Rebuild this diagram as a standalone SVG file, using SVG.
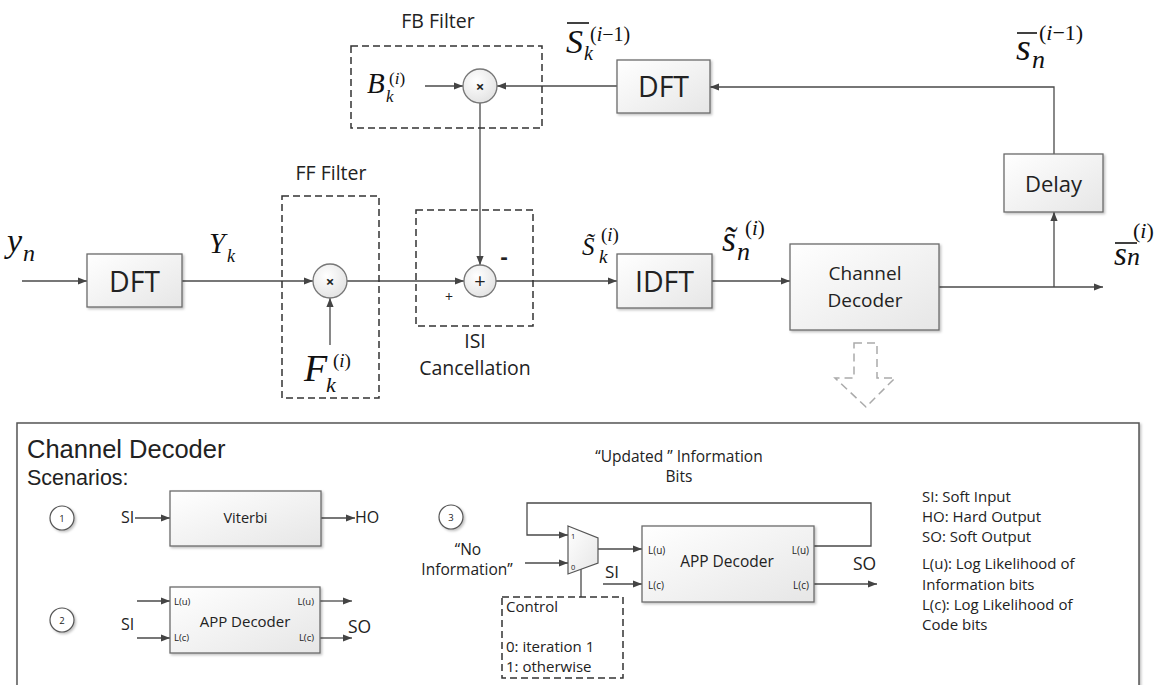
<svg xmlns="http://www.w3.org/2000/svg" width="1165" height="685" viewBox="0 0 1165 685">
<defs>
<linearGradient id="g" x1="0" y1="0" x2="1" y2="1">
<stop offset="0" stop-color="#ffffff"/>
<stop offset="1" stop-color="#e6e6e6"/>
</linearGradient>
<radialGradient id="rg" cx="0.4" cy="0.35" r="0.7">
<stop offset="0" stop-color="#ffffff"/>
<stop offset="1" stop-color="#e2e2e2"/>
</radialGradient>
<filter id="sh" x="-10%" y="-10%" width="130%" height="130%">
<feDropShadow dx="1.5" dy="1.5" stdDeviation="1" flood-color="#000" flood-opacity="0.25"/>
</filter>
<marker id="ah" viewBox="0 0 10 10" refX="10" refY="5" markerWidth="10" markerHeight="9" markerUnits="userSpaceOnUse" orient="auto">
<path d="M0,1 L10,5 L0,9 z" fill="#444"/>
</marker>
<style>
.box{fill:url(#g);stroke:#6a6a6a;stroke-width:1.3;filter:url(#sh)}
.cir{fill:url(#rg);stroke:#777;stroke-width:1.3}
.dash{fill:none;stroke:#333;stroke-width:1.5;stroke-dasharray:7 4}
.ln{fill:none;stroke:#4a4a4a;stroke-width:1.3}
.ar{marker-end:url(#ah)}
.t{font-family:'Open Sans','Liberation Sans',sans-serif;fill:#222}
.h{font-family:'Liberation Sans',sans-serif;fill:#222}
.c{text-anchor:middle}
.m{font-family:'Liberation Serif',serif;font-style:italic;fill:#111}
.up{font-style:normal}
.it{font-style:italic}
.ov{stroke:#111;stroke-width:1.6}
</style>
</defs>
<rect width="1165" height="685" fill="#fff"/>

<g id="scenarios-panel">
<rect x="17" y="423" width="1122" height="290" fill="#fff" stroke="#555" stroke-width="1.5" filter="url(#sh)"/>
<text class="h" x="27" y="458" font-size="25.5">Channel Decoder</text>
<text class="h" x="27" y="485" font-size="21.5">Scenarios:</text>
</g>

<g id="connectors">
<path class="ln ar" d="M22,281 H87"/>
<path class="ln ar" d="M182,281 H313"/>
<path class="ln ar" d="M330,345 V298"/>
<path class="ln ar" d="M347,281 H464"/>
<path class="ln ar" d="M480,103 V265"/>
<path class="ln ar" d="M425,86 H463"/>
<path class="ln ar" d="M617,86 H497"/>
<path class="ln ar" d="M496,281 H617"/>
<path class="ln ar" d="M712,281 H790"/>
<path class="ln ar" d="M939,287 H1103"/>
<path class="ln ar" d="M1054,287 V212"/>
<path class="ln ar" d="M1054,154 V87 H710"/>
<path class="ln ar" d="M135,518 H170"/>
<path class="ln ar" d="M321,518 H355"/>
<path class="ln ar" d="M137,601 H170"/>
<path class="ln ar" d="M137,638 H170"/>
<path class="ln ar" d="M320,601 H352"/>
<path class="ln ar" d="M320,638 H352"/>
<path class="ln ar" d="M814,546 H871 V503 H527 V535 H568"/>
<path class="ln ar" d="M525,563 H568"/>
<path class="ln ar" d="M598,549 H642"/>
<path class="ln ar" d="M603,584 H642"/>
<path class="ln ar" d="M814,584 H877"/>
<path class="ln" d="M581,569 V597"/>
</g>

<g id="input-yn">
<text class="m"><tspan x="7" y="252" font-size="34">y</tspan><tspan x="23" y="261" font-size="24">n</tspan></text>
</g>

<g id="dft1">
<rect class="box" x="87" y="254" width="95" height="53"/>
<text class="t c" x="134.5" y="292" font-size="28.5">DFT</text>
</g>

<g id="label-Yk">
<text class="m"><tspan x="209" y="253" font-size="29">Y</tspan><tspan x="227" y="262" font-size="18">k</tspan></text>
</g>

<g id="ff-filter">
<text class="t c" x="331" y="180" font-size="19.5">FF Filter</text>
<rect class="dash" x="282" y="196" width="97" height="202"/>
<circle class="cir" cx="330" cy="281" r="17"/>
<text class="t c" x="330" y="286.5" font-size="15" font-weight="bold">×</text>
<text class="m"><tspan x="304" y="381" font-size="38">F</tspan><tspan x="333" y="367" font-size="19" class="up">(<tspan class="it">i</tspan>)</tspan><tspan x="326" y="392" font-size="22">k</tspan></text>
</g>

<g id="fb-filter">
<text class="t c" x="438" y="28" font-size="19.5">FB Filter</text>
<rect class="dash" x="351" y="46" width="191" height="82"/>
<text class="m"><tspan x="367" y="93" font-size="29">B</tspan><tspan x="389" y="84" font-size="17" class="up">(<tspan class="it">i</tspan>)</tspan><tspan x="386" y="102" font-size="17">k</tspan></text>
<circle class="cir" cx="480" cy="86" r="17"/>
<text class="t c" x="480" y="91.5" font-size="15" font-weight="bold">×</text>
</g>

<g id="isi-cancellation">
<rect class="dash" x="416" y="210" width="117" height="116"/>
<circle class="cir" cx="480" cy="281" r="16"/>
<text class="t c" x="480" y="288" font-size="20">+</text>
<text class="t c" x="449" y="302" font-size="14">+</text>
<text class="t c" x="504" y="264" font-size="22" font-weight="bold">-</text>
<text class="t c" x="475" y="348" font-size="19.5">ISI</text>
<text class="t c" x="475" y="375" font-size="19.5">Cancellation</text>
</g>

<g id="dft2">
<rect class="box" x="617" y="60" width="93" height="53"/>
<text class="t c" x="663.5" y="97" font-size="28.5">DFT</text>
<line class="ov" x1="567" y1="23" x2="589" y2="23"/>
<text class="m"><tspan x="566" y="53" font-size="34">S</tspan><tspan x="590" y="41" font-size="20" class="up">(<tspan class="it">i</tspan>−1)</tspan><tspan x="584" y="60" font-size="20">k</tspan></text>
</g>

<g id="idft">
<rect class="box" x="617" y="254" width="95" height="54"/>
<text class="t c" x="664.5" y="292" font-size="28.5">IDFT</text>
<text class="m"><tspan x="582" y="255" font-size="25">S&#x303;</tspan><tspan x="601" y="241" font-size="19" class="up">(<tspan class="it">i</tspan>)</tspan><tspan x="599" y="263" font-size="19">k</tspan></text>
<text class="m"><tspan x="722" y="251" font-size="36">s&#x303;</tspan><tspan x="745" y="235" font-size="21" class="up">(<tspan class="it">i</tspan>)</tspan><tspan x="737" y="260" font-size="26">n</tspan></text>
</g>

<g id="channel-decoder">
<rect class="box" x="790" y="244" width="149" height="86"/>
<text class="t c" x="865" y="280" font-size="19">Channel</text>
<text class="t c" x="865" y="307" font-size="19">Decoder</text>
<line class="ov" x1="1115" y1="243" x2="1137" y2="243"/>
<text class="m"><tspan x="1114" y="265" font-size="33">s</tspan><tspan x="1133" y="238" font-size="22" class="up">(<tspan class="it">i</tspan>)</tspan><tspan x="1127" y="265" font-size="26">n</tspan></text>
</g>

<g id="delay">
<rect class="box" x="1004" y="154" width="99" height="58"/>
<text class="t c" x="1053.5" y="192" font-size="22">Delay</text>
<line class="ov" x1="1017" y1="33" x2="1037" y2="33"/>
<text class="m"><tspan x="1016" y="60" font-size="38">s</tspan><tspan x="1039" y="40" font-size="22" class="up">(<tspan class="it">i</tspan>−1)</tspan><tspan x="1032" y="68" font-size="26">n</tspan></text>
</g>

<g id="expand-arrow">
<polygon points="854,343 877,343 877,378 895,378 866,407 835,378 854,378" fill="#fff" stroke="#aaa" stroke-width="1.5" stroke-dasharray="8 5"/>
</g>

<g id="scenario-1">
<circle cx="62" cy="518" r="12" fill="#fff" stroke="#555" stroke-width="1.2" filter="url(#sh)"/>
<text class="t c" x="62" y="521.5" font-size="9.5">1</text>
<text class="t" x="121" y="523" font-size="16">SI</text>
<rect class="box" x="170" y="491" width="151" height="55"/>
<text class="t c" x="245.5" y="523" font-size="14.5">Viterbi</text>
<text class="t" x="355" y="523" font-size="16">HO</text>
</g>

<g id="scenario-2">
<circle cx="62" cy="620" r="12" fill="#fff" stroke="#555" stroke-width="1.2" filter="url(#sh)"/>
<text class="t c" x="62" y="623.5" font-size="9.5">2</text>
<text class="t" x="121" y="630" font-size="16">SI</text>
<rect class="box" x="170" y="587" width="150" height="66"/>
<text class="t" x="174" y="605" font-size="9.5">L(u)</text>
<text class="t" x="174" y="641" font-size="9.5">L(c)</text>
<text class="t" x="314" y="605" font-size="9.5" text-anchor="end">L(u)</text>
<text class="t" x="314" y="641" font-size="9.5" text-anchor="end">L(c)</text>
<text class="t c" x="245" y="627" font-size="15">APP Decoder</text>
<text class="t" x="348" y="633" font-size="17.5">SO</text>
</g>

<g id="scenario-3">
<circle cx="451" cy="517" r="12" fill="#fff" stroke="#555" stroke-width="1.2" filter="url(#sh)"/>
<text class="t c" x="451" y="520.5" font-size="9.5">3</text>
<text class="t c" x="679" y="462" font-size="15.5">“Updated ” Information</text>
<text class="t c" x="679" y="482" font-size="15.5">Bits</text>
<text class="t c" x="468" y="555" font-size="15.5">“No</text>
<text class="t c" x="467" y="575" font-size="15.5">Information”</text>
<polygon points="568,526 598,538 598,563 568,574" fill="url(#g)" stroke="#555" stroke-width="1.2"/>
<text class="t" x="571" y="539" font-size="7.5">1</text>
<text class="t" x="571" y="570" font-size="7.5">0</text>
<rect class="box" x="642" y="526" width="172" height="76"/>
<text class="t c" x="727" y="567" font-size="15.5">APP Decoder</text>
<text class="t" x="648" y="554" font-size="10">L(u)</text>
<text class="t" x="648" y="589" font-size="10">L(c)</text>
<text class="t" x="809" y="554" font-size="10" text-anchor="end">L(u)</text>
<text class="t" x="809" y="589" font-size="10" text-anchor="end">L(c)</text>
<text class="t" x="605" y="578" font-size="17">SI</text>
<text class="t" x="853" y="570" font-size="17.5">SO</text>
<rect class="dash" x="502" y="597" width="121" height="81"/>
<text class="t" x="506" y="612" font-size="15">Control</text>
<text class="t" x="506" y="652" font-size="15">0: iteration 1</text>
<text class="t" x="506" y="672" font-size="15">1: otherwise</text>
</g>

<g id="legend">
<text class="t" x="922" y="502" font-size="15">SI: Soft Input</text>
<text class="t" x="922" y="522" font-size="15">HO: Hard Output</text>
<text class="t" x="922" y="542" font-size="15">SO: Soft Output</text>
<text class="t" x="922" y="569" font-size="15">L(u): Log Likelihood of</text>
<text class="t" x="922" y="590" font-size="15">Information bits</text>
<text class="t" x="922" y="610" font-size="15">L(c): Log Likelihood of</text>
<text class="t" x="922" y="630" font-size="15">Code bits</text>
</g>
</svg>
